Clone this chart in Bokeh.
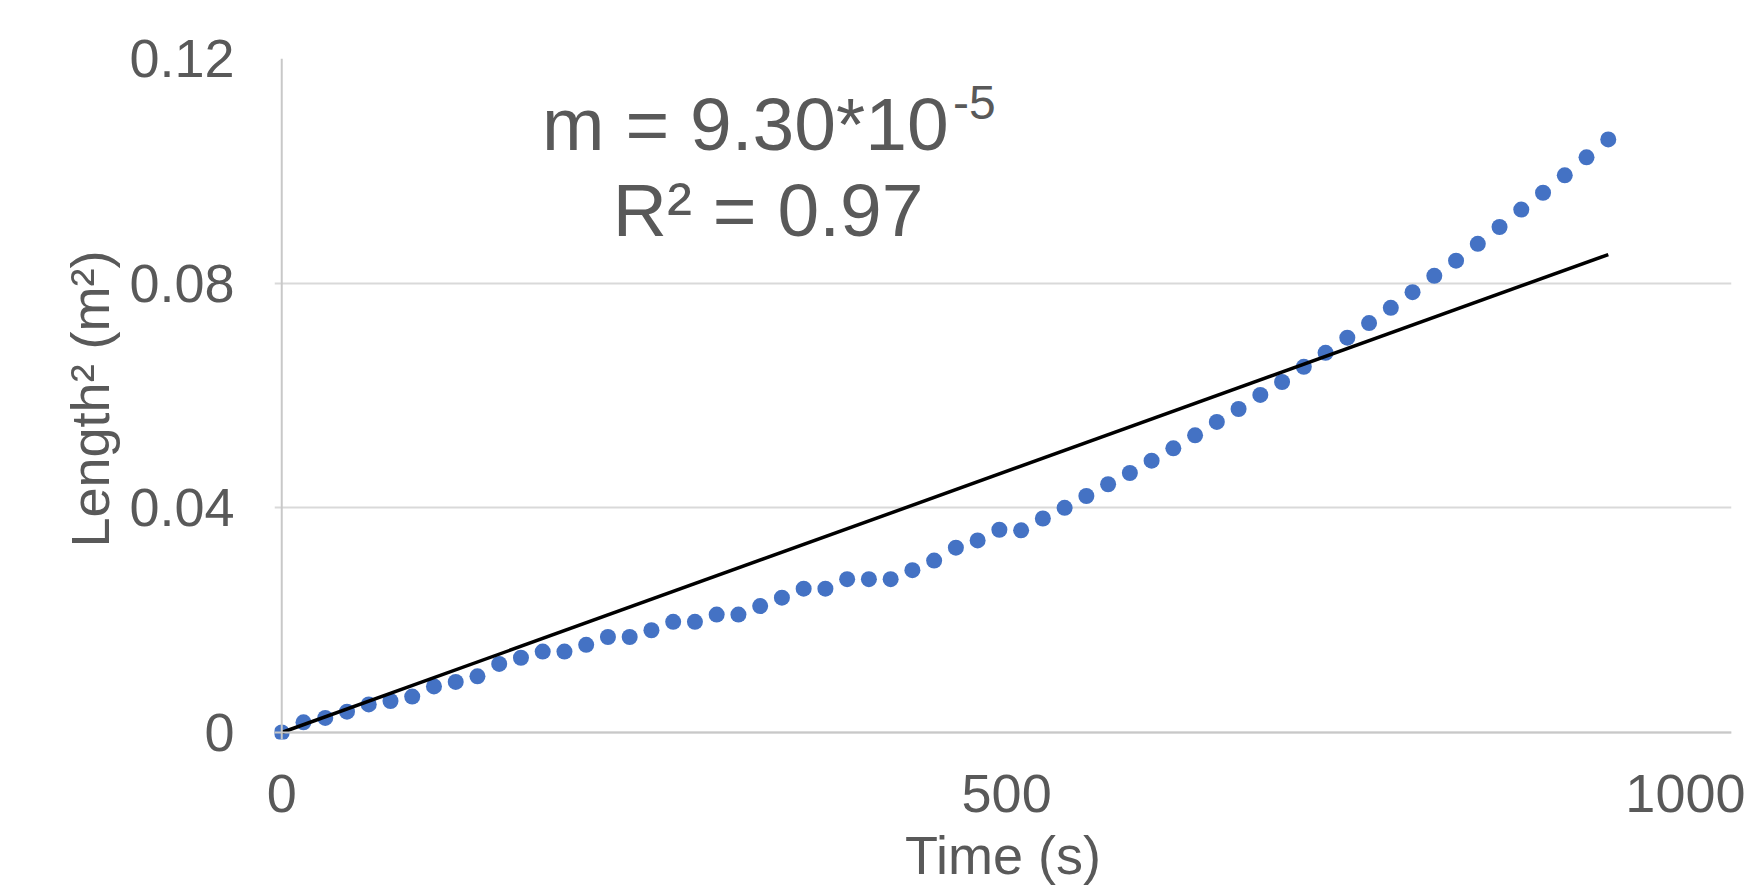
from bokeh.plotting import figure
from bokeh.models import (ColumnDataSource, Range1d, FixedTicker, CustomJSTickFormatter,
                          Label, Span)
from bokeh.embed import file_html
from bokeh.resources import INLINE

# ---- data ----
time_s = [0, 15, 30, 45, 60, 75, 90, 105, 120, 135, 150, 165, 180, 195, 210, 225,
          240, 255, 270, 285, 300, 315, 330, 345, 360, 375, 390, 405, 420, 435, 450,
          465, 480, 495, 510, 525, 540, 555, 570, 585, 600, 615, 630, 645, 660, 675,
          690, 705, 720, 735, 750, 765, 780, 795, 810, 825, 840, 855, 870, 885, 900, 915]
length_sq = [0.0, 0.0018, 0.0026, 0.0037, 0.0050, 0.0056, 0.0064, 0.0082, 0.0090, 0.0100,
             0.0122, 0.0133, 0.0144, 0.0144, 0.0156, 0.0170, 0.0170, 0.0182, 0.0197, 0.0197,
             0.0210, 0.0210, 0.0225, 0.0240, 0.0256, 0.0256, 0.0273, 0.0273, 0.0273, 0.0289,
             0.0306, 0.0329, 0.0342, 0.0361, 0.0360, 0.0381, 0.0400, 0.0421, 0.0442, 0.0462,
             0.0484, 0.0506, 0.0529, 0.0553, 0.0576, 0.0601, 0.0624, 0.0651, 0.0676, 0.0703,
             0.0729, 0.0756, 0.0784, 0.0813, 0.0840, 0.0870, 0.0900, 0.0931, 0.0961, 0.0992,
             0.1024, 0.1056]
slope = 9.30e-5
slope_text = "m = 9.30*10"
slope_exp = "-5"
r2_text = "R\u00b2 = 0.97"
x_ticks = [0, 500, 1000]
y_ticks = [0, 0.04, 0.08, 0.12]
x_title = "Time (s)"
y_title = "Length\u00b2 (m\u00b2)"

TXT = "#595959"
FONT = "Liberation Sans"

src = ColumnDataSource(data=dict(t=time_s, L2=length_sq))
trend = ColumnDataSource(data=dict(t=[time_s[0], time_s[-1]],
                                   L2=[slope * time_s[0], slope * time_s[-1]]))

p = figure(width=1745, height=888, output_backend="svg", toolbar_location=None,
           x_range=Range1d(-5, 1000), y_range=Range1d(-0.00125, 0.12),
           min_border_left=274, min_border_right=14, min_border_top=58, min_border_bottom=149)
p.outline_line_color = None
p.background_fill_color = "white"
p.border_fill_color = "white"

# grid
p.xgrid.visible = False
p.ygrid.ticker = FixedTicker(ticks=y_ticks)
p.ygrid.grid_line_color = "#d9d9d9"
p.ygrid.grid_line_width = 2

# axes
for ax in (p.xaxis[0], p.yaxis[0]):
    ax.axis_line_color = None
    ax.major_tick_line_color = None
    ax.minor_tick_line_color = None
    ax.major_tick_out = 0
    ax.major_tick_in = 0
    ax.major_label_text_font = FONT
    ax.major_label_text_font_size = "54px"
    ax.major_label_text_color = TXT
    ax.axis_label_text_font = FONT
    ax.axis_label_text_font_size = "54px"
    ax.axis_label_text_color = TXT
    ax.axis_label_text_font_style = "normal"

p.xaxis.ticker = FixedTicker(ticks=x_ticks)
p.xaxis.major_label_standoff = 35
p.xaxis.axis_label = x_title
p.xaxis.axis_label_standoff = 10
p.yaxis.ticker = FixedTicker(ticks=y_ticks)
p.yaxis.formatter = CustomJSTickFormatter(code="return tick === 0 ? '0' : tick.toFixed(2);")
p.yaxis.major_label_standoff = 40
p.yaxis.axis_label = y_title
p.yaxis.axis_label_standoff = 6

# axis lines at zero
p.add_layout(Span(location=0, dimension="width", line_color="#c8c8c8", line_width=2))
p.add_layout(Span(location=0, dimension="height", line_color="#c8c8c8", line_width=2))

# data
p.scatter(x="t", y="L2", source=src, size=16, fill_color="#4472C4", line_color=None)
p.line(x="t", y="L2", source=trend, line_color="black", line_width=3.5)

# annotations (slope and R^2)
p.add_layout(Label(x=179.6, y=0.1084, text=slope_text, text_font=FONT, text_font_size="75px",
                   text_color=TXT, text_align="left", text_baseline="alphabetic"))
p.add_layout(Label(x=463.0, y=0.1122, text=slope_exp, text_font=FONT, text_font_size="48px",
                   text_color=TXT, text_align="left", text_baseline="alphabetic"))
p.add_layout(Label(x=335.5, y=0.0931, text=r2_text, text_font=FONT, text_font_size="75px",
                   text_color=TXT, text_align="center", text_baseline="alphabetic"))

open("out.html", "w").write(file_html(p, INLINE))
